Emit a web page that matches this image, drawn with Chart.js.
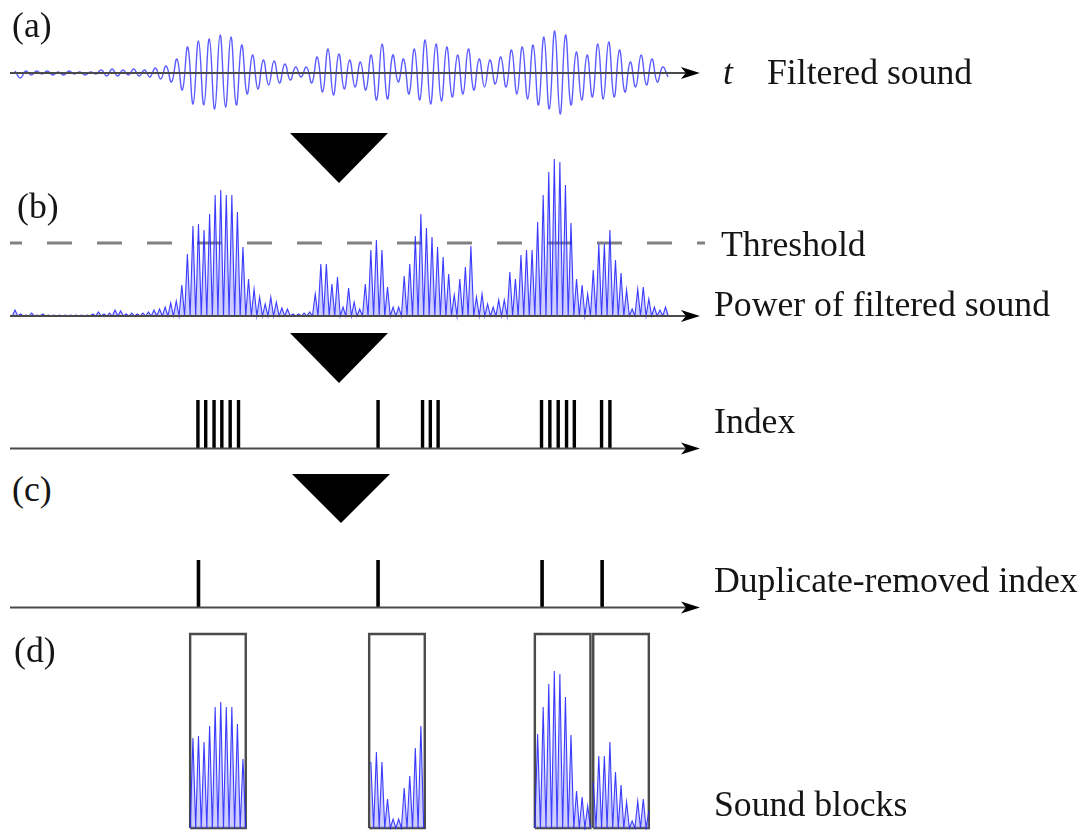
<!DOCTYPE html>
<html>
<head>
<meta charset="utf-8">
<script src="https://cdn.jsdelivr.net/npm/chart.js@4.4.1/dist/chart.umd.min.js"></script>
<style>
html, body { margin: 0; padding: 0; background: #fff; }
#page { position: relative; width: 1090px; height: 830px; overflow: hidden;
        font-family: 'Liberation Serif', 'Times New Roman', serif; color: #151515; }
#page canvas { position: absolute; left: 0; }
.lbl { position: absolute; font-size: 35.7px; line-height: 35px; white-space: nowrap; z-index: 2; }
.tri { position: absolute; width: 0; height: 0; border-left: 49px solid transparent;
       border-right: 49px solid transparent; border-top: 50px solid #000; }
</style>
</head>
<body>
<div id="page">
  <div class="tri" style="left:290px;top:133px"></div>
  <div class="tri" style="left:290px;top:333px"></div>
  <div class="tri" style="left:292px;top:474px;border-top-width:49px"></div>

  <canvas id="soundChart" width="1090" height="96" style="top:25px"></canvas>
  <canvas id="powerChart" width="1090" height="175" style="top:150px"></canvas>
  <canvas id="indexChart" width="1090" height="60" style="top:395px"></canvas>
  <canvas id="dedupChart" width="1090" height="65" style="top:550px"></canvas>
  <canvas id="blockChart" width="1090" height="202" style="top:628px"></canvas>

  <div class="lbl" style="left:12px;top:8px">(a)</div>
  <div class="lbl" style="left:723px;top:55px;font-style:italic">t</div>
  <div class="lbl" style="left:767px;top:55px">Filtered sound</div>
  <div class="lbl" style="left:17px;top:189px">(b)</div>
  <div class="lbl" style="left:721px;top:227px">Threshold</div>
  <div class="lbl" style="left:714px;top:287px">Power of filtered sound</div>
  <div class="lbl" style="left:714px;top:404px">Index</div>
  <div class="lbl" style="left:12px;top:472px">(c)</div>
  <div class="lbl" style="left:714px;top:563px">Duplicate-removed index</div>
  <div class="lbl" style="left:14px;top:633px">(d)</div>
  <div class="lbl" style="left:714px;top:787px">Sound blocks</div>
</div>

<script>
// (a) filtered sound: successive extrema, one per half period
const soundPeaks = [
  2, -5, 2, -2, 2, -1, 2, -2, 1, -2,
  2, -1, 1, -2, 1, -1, 3, -3, 4, -3,
  3, -2, 4, -3, 3, -4, 5, -6, 7, -9,
  14, -17, 26, -31, 32, -32, 34, -36, 38, -34,
  36, -32, 28, -21, 18, -16, 13, -12, 12, -10,
  9, -7, 6, -4, 6, -10, 16, -19, 24, -22,
  19, -16, 13, -14, 11, -17, 18, -27, 29, -26,
  18, -9, 14, -21, 24, -27, 33, -31, 29, -28,
  26, -24, 18, -21, 24, -17, 14, -14, 13, -11,
  16, -14, 23, -21, 26, -26, 28, -32, 36, -36,
  42, -41, 38, -32, 21, -27, 18, -24, 29, -26,
  31, -24, 23, -19, 11, -14, 18, -12, 14, -9,
  6, -4
];

// (b) power of filtered sound: one spike per sample step
const powerPeaks = [
  6, 2, 1, 3, 1, 2, 1, 1, 1, 1,
  1, 1, 1, 1, 2, 4, 2, 3, 6, 5,
  2, 3, 2, 3,
  4, 6, 7, 9, 13, 15, 31, 62, 90, 92,
  86, 102, 121, 126, 121, 121, 104, 69, 37, 27,
  19, 12, 19, 14, 8, 7, 2, 2, 3, 4,
  22, 52, 52, 32, 39, 9, 28, 14, 7, 32,
  66, 76, 66, 29, 9, 9, 40, 52, 80, 102,
  88, 79, 69, 59, 42, 21, 37, 49, 70, 19,
  22, 12, 9, 16, 16, 44, 37, 61, 66, 66,
  94, 121, 144, 157, 154, 131, 93, 37, 31, 22,
  46, 72, 72, 86, 56, 43, 26, 7, 27, 29,
  17, 9, 6, 9
];
const powerFloor = 0;
const threshold = 73;

// index positions (in power sample steps)
const indexMarks = [32.9, 34.3, 35.8, 37.2, 38.7, 40.2, 65.3, 73.3, 74.7, 76.1,
                    94.7, 96.2, 97.7, 99.2, 100.6, 105.5, 107.0];
const dedupMarks = [33.0, 65.3, 94.8, 105.6];

// sound block windows
const blockStarts = [31.5, 63.7, 93.5, 104.0];
const blockLength = 10;
const blockHeight = 194;

// ---- layout (x ranges in each series' own step units) ----
const SOUND_RANGE = [-2.78, 199.18];
const SOUND_AXIS = [-0.93, 126.9];
const POWER_RANGE = [-2.70, 193.35];
const POWER_AXIS = [-0.9, 123.2];

const axisArrow = {
  id: 'axisArrow',
  afterDatasetsDraw(chart, args, opts) {
    if (!opts.show) return;
    const { ctx, scales: { x, y } } = chart;
    const x0 = x.getPixelForValue(opts.from);
    const x1 = x.getPixelForValue(opts.to);
    const yy = y.getPixelForValue(0);
    ctx.save();
    ctx.strokeStyle = opts.color || '#555';
    ctx.lineWidth = 2.2;
    ctx.beginPath();
    ctx.moveTo(x0, yy);
    ctx.lineTo(x1 - 12, yy);
    ctx.stroke();
    ctx.fillStyle = '#000';
    ctx.beginPath();
    ctx.moveTo(x1, yy);
    ctx.lineTo(x1 - 19, yy - 6);
    ctx.lineTo(x1 - 14, yy);
    ctx.lineTo(x1 - 19, yy + 6);
    ctx.closePath();
    ctx.fill();
    ctx.restore();
  }
};
Chart.register(axisArrow);

function baseOptions(xRange, yRange, axis) {
  return {
    responsive: false,
    animation: false,
    events: [],
    layout: { padding: 0 },
    elements: { point: { radius: 0 } },
    plugins: {
      legend: { display: false },
      tooltip: { enabled: false },
      axisArrow: axis ? { show: true, from: axis[0], to: axis[1], color: '#4a4a4a' } : { show: false }
    },
    scales: {
      x: { type: 'linear', display: false, min: xRange[0], max: xRange[1] },
      y: { display: false, min: yRange[0], max: yRange[1] }
    }
  };
}

// zigzag of power spikes between floor values
function powerSeries(lo, hi) {
  const pts = [];
  powerPeaks.forEach((p, m) => {
    pts.push({ x: m - 0.5, y: powerFloor });
    pts.push({ x: m, y: p });
  });
  pts.push({ x: powerPeaks.length - 0.5, y: powerFloor });
  return pts.filter(pt => pt.x >= lo && pt.x <= hi);
}

function markSeries(marks, height) {
  const pts = [];
  marks.forEach(v => {
    pts.push({ x: v, y: 0 }, { x: v, y: height }, { x: v, y: null });
  });
  return pts;
}

const waveStyle = {
  borderColor: 'rgba(30, 30, 255, 0.85)',
  borderWidth: 1.1,
  backgroundColor: 'rgba(130, 130, 255, 0.4)',
  fill: 'origin',
  tension: 0,
  pointRadius: 0
};

// (a)
new Chart(document.getElementById('soundChart'), {
  type: 'line',
  data: {
    datasets: [{
      data: soundPeaks.map((v, j) => ({ x: j, y: v })),
      borderColor: 'rgba(50, 50, 255, 0.8)',
      borderWidth: 1.4,
      tension: 0.45,
      fill: false,
      pointRadius: 0
    }]
  },
  options: baseOptions(SOUND_RANGE, [-48, 48], SOUND_AXIS)
});

// (b)
new Chart(document.getElementById('powerChart'), {
  type: 'line',
  data: {
    datasets: [
      Object.assign({ data: powerSeries(-1, 999) }, waveStyle),
      {
        data: [{ x: -0.9, y: threshold }, { x: 124.1, y: threshold }],
        borderColor: '#808080',
        borderWidth: 3,
        borderDash: [25, 25],
        borderDashOffset: 13,
        pointRadius: 0,
        fill: false
      }
    ]
  },
  options: baseOptions(POWER_RANGE, [-9, 166], POWER_AXIS)
});

// index
new Chart(document.getElementById('indexChart'), {
  type: 'line',
  data: {
    datasets: [{
      data: markSeries(indexMarks, 1),
      borderColor: '#000',
      borderWidth: 3.4,
      spanGaps: false,
      pointRadius: 0
    }]
  },
  options: baseOptions(POWER_RANGE, [-0.134, 1.103], POWER_AXIS)
});

// (c) duplicate-removed index
new Chart(document.getElementById('dedupChart'), {
  type: 'line',
  data: {
    datasets: [{
      data: markSeries(dedupMarks, 1),
      borderColor: '#000',
      borderWidth: 3.6,
      spanGaps: false,
      pointRadius: 0
    }]
  },
  options: baseOptions(POWER_RANGE, [-0.158, 1.2105], POWER_AXIS)
});

// (d) sound blocks
const blockSets = [];
blockStarts.forEach(s => {
  const e = s + blockLength;
  blockSets.push(Object.assign({ data: powerSeries(s, e) }, waveStyle));
  blockSets.push({
    data: [{ x: s, y: 0 }, { x: s, y: blockHeight }, { x: e, y: blockHeight }, { x: e, y: 0 }, { x: s, y: 0 }],
    borderColor: '#4a4a4a',
    borderWidth: 2.4,
    fill: false,
    tension: 0,
    pointRadius: 0
  });
});
new Chart(document.getElementById('blockChart'), {
  type: 'line',
  data: { datasets: blockSets },
  options: baseOptions(POWER_RANGE, [-2, 200], null)
});
</script>
</body>
</html>
